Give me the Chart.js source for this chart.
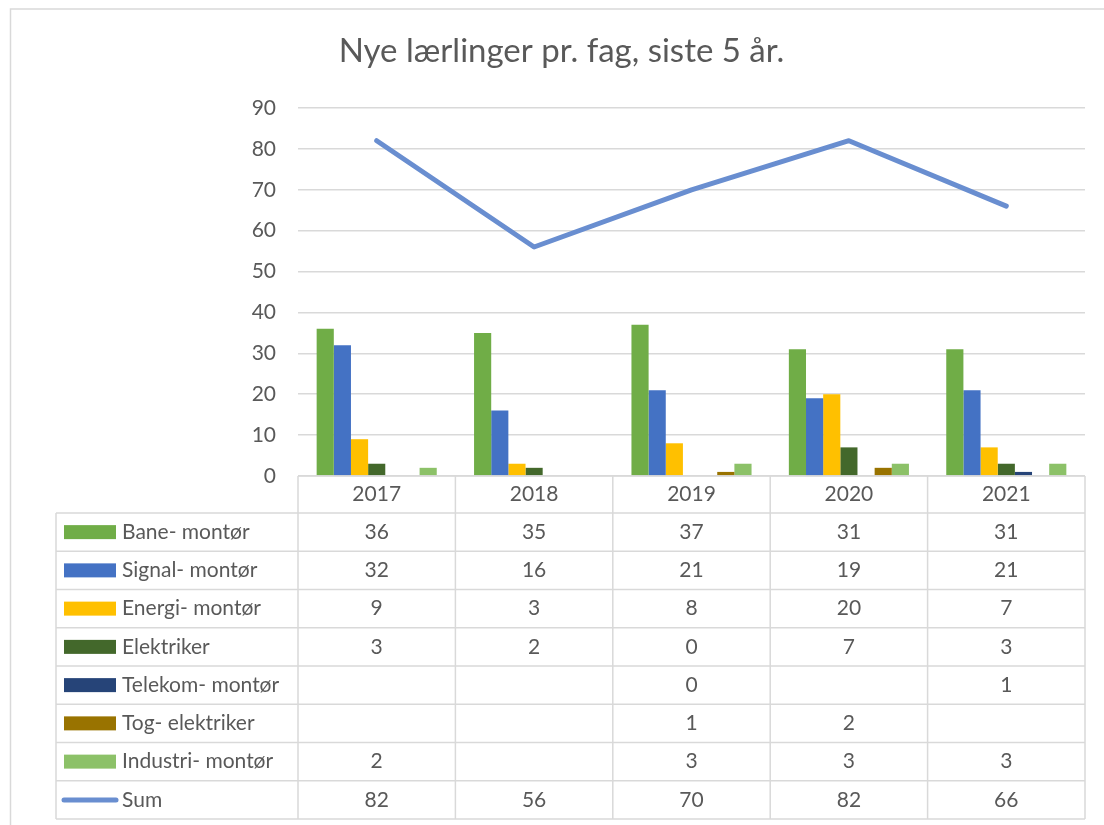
<!DOCTYPE html>
<html>
<head>
<meta charset="utf-8">
<script src="https://cdn.jsdelivr.net/npm/chart.js@4"></script>
<style>
  html, body { margin: 0; padding: 0; background: #fff; overflow: hidden; }
  canvas { display: block; }
</style>
</head>
<body>
<canvas id="chart" width="1104" height="825"></canvas>
<script>
// data
const years = ['2017', '2018', '2019', '2020', '2021'];
const bane = [36, 35, 37, 31, 31];
const signal = [32, 16, 21, 19, 21];
const energi = [9, 3, 8, 20, 7];
const elektriker = [3, 2, 0, 7, 3];
const telekom = [null, null, 0, null, 1];
const togElektriker = [null, null, 1, 2, null];
const industri = [2, null, 3, 3, 3];
const sum = [82, 56, 70, 82, 66];
const yTicks = [0, 10, 20, 30, 40, 50, 60, 70, 80, 90];

const FONT = 'Lato, "Open Sans", sans-serif';
const TEXT = '#595959';
const GRID = '#D9D9D9';

const barSeries = [
    { label: 'Bane- montør', data: bane, color: '#70AD47' },
    { label: 'Signal- montør', data: signal, color: '#4472C4' },
    { label: 'Energi- montør', data: energi, color: '#FFC000' },
    { label: 'Elektriker', data: elektriker, color: '#43682B' },
    { label: 'Telekom- montør', data: telekom, color: '#264478' },
    { label: 'Tog- elektriker', data: togElektriker, color: '#997300' },
    { label: 'Industri- montør', data: industri, color: '#8CC168' }
];
const lineSeries = { label: 'Sum', data: sum, color: '#698ED0' };

// white background + thin frame like the Excel chart border
const framePlugin = {
    id: 'frame',
    beforeDraw(chart) {
        const ctx = chart.ctx;
        ctx.save();
        ctx.fillStyle = '#fff';
        ctx.fillRect(0, 0, chart.width, chart.height);
        ctx.strokeStyle = GRID;
        ctx.lineWidth = 1.5;
        ctx.beginPath();
        ctx.moveTo(10.5, chart.height);
        ctx.lineTo(10.5, 9);
        ctx.lineTo(chart.width, 9);
        ctx.stroke();
        ctx.restore();
    }
};

// data table under the plot, columns taken from the x scale
const tablePlugin = {
    id: 'dataTable',
    afterDraw(chart) {
        const ctx = chart.ctx;
        const x = chart.scales.x;
        const area = chart.chartArea;
        const n = years.length;
        const colW = (x.right - x.left) / n;
        const tableLeft = 56;
        const headTop = area.bottom;
        const rowTop = 513;
        const rowH = 38.25;
        const rows = barSeries.concat([lineSeries]);
        const bottom = rowTop + rows.length * rowH;

        ctx.save();
        ctx.strokeStyle = GRID;
        ctx.lineWidth = 1.5;
        ctx.beginPath();
        ctx.moveTo(x.left, headTop);
        ctx.lineTo(x.right, headTop);
        for (let k = 0; k <= rows.length; k++) {
            const y = rowTop + k * rowH;
            ctx.moveTo(tableLeft, y);
            ctx.lineTo(x.right, y);
        }
        ctx.moveTo(tableLeft, rowTop);
        ctx.lineTo(tableLeft, bottom);
        for (let i = 0; i <= n; i++) {
            const xb = x.left + i * colW;
            ctx.moveTo(xb, headTop);
            ctx.lineTo(xb, bottom);
        }
        ctx.stroke();

        ctx.fillStyle = TEXT;
        ctx.font = '21px ' + FONT;
        ctx.textBaseline = 'middle';
        ctx.textAlign = 'center';
        years.forEach((yr, i) => {
            ctx.fillText(yr, x.getPixelForValue(i), (headTop + rowTop) / 2);
        });

        rows.forEach((s, k) => {
            const yc = rowTop + k * rowH + rowH / 2;
            // legend key
            if (s === lineSeries) {
                ctx.strokeStyle = s.color;
                ctx.lineWidth = 5;
                ctx.lineCap = 'round';
                ctx.beginPath();
                ctx.moveTo(64, yc);
                ctx.lineTo(116, yc);
                ctx.stroke();
            } else {
                ctx.fillStyle = s.color;
                ctx.fillRect(64, yc - 7, 52, 14);
            }
            ctx.fillStyle = TEXT;
            ctx.textAlign = 'left';
            ctx.fillText(s.label, 122, yc);
            ctx.textAlign = 'center';
            s.data.forEach((v, i) => {
                if (v !== null) ctx.fillText(String(v), x.getPixelForValue(i), yc);
            });
        });
        ctx.restore();
    }
};

const datasets = barSeries.map(s => ({
    type: 'bar',
    label: s.label,
    data: s.data,
    backgroundColor: s.color,
    borderWidth: 0,
    order: 2
}));
datasets.push({
    type: 'line',
    label: lineSeries.label,
    data: lineSeries.data,
    borderColor: lineSeries.color,
    backgroundColor: lineSeries.color,
    borderWidth: 5,
    borderCapStyle: 'round',
    borderJoinStyle: 'round',
    pointRadius: 0,
    tension: 0,
    order: 1
});

new Chart(document.getElementById('chart'), {
    data: { labels: years, datasets: datasets },
    plugins: [framePlugin, tablePlugin],
    options: {
        responsive: false,
        animation: false,
        layout: { padding: { left: 38, right: 19, top: 0, bottom: 349 } },
        datasets: {
            bar: { categoryPercentage: 0.763, barPercentage: 1.0 }
        },
        plugins: {
            legend: { display: false },
            tooltip: { enabled: false },
            title: {
                display: true,
                text: 'Nye lærlinger pr. fag, siste 5 år.',
                color: TEXT,
                font: { family: FONT, size: 33, weight: 'normal' },
                padding: { top: 32, bottom: 36.4 }
            }
        },
        scales: {
            x: { display: false },
            y: {
                min: 0,
                max: 90,
                afterBuildTicks: (scale) => { scale.ticks = yTicks.map(v => ({ value: v })); },
                afterFit: (scale) => { scale.width = 260; },
                border: { display: false },
                grid: { color: GRID, lineWidth: 1.5, drawTicks: false },
                ticks: {
                    color: TEXT,
                    padding: 22,
                    font: { family: FONT, size: 21 }
                }
            }
        }
    }
});
</script>
</body>
</html>
